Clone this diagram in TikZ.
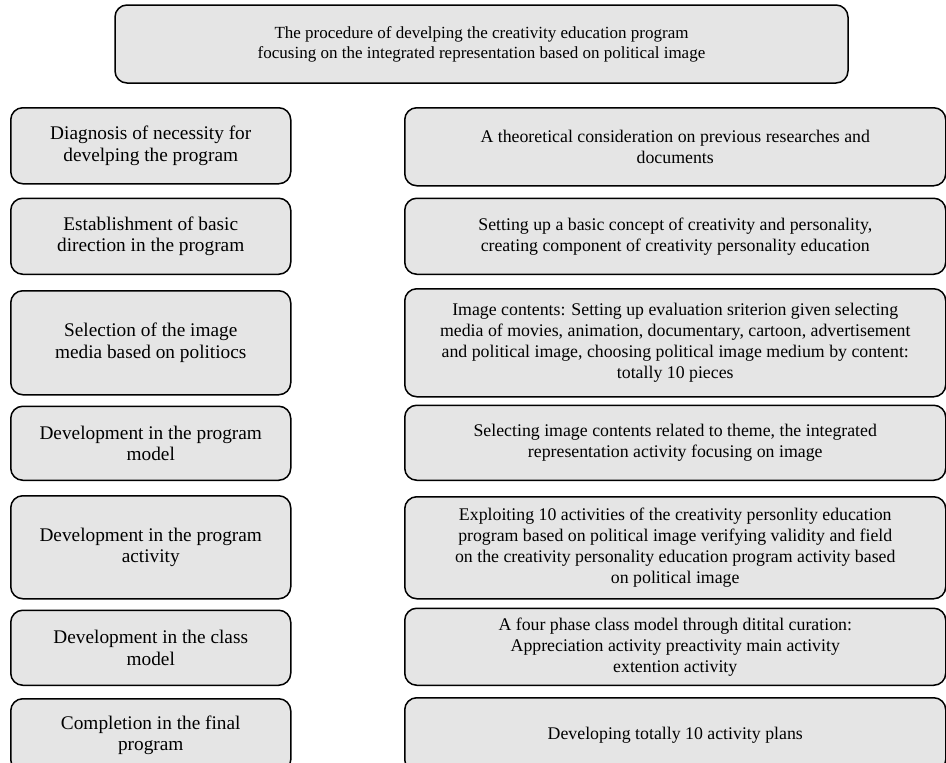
\documentclass[tikz,border=0pt]{standalone}
\usepackage{fontspec}
\setmainfont{Liberation Serif}
\usepackage{tikz}
\usetikzlibrary{positioning}
\definecolor{boxfill}{gray}{0.9}
\tikzset{box/.style={draw, rounded corners=12pt, line width=1.5pt, fill=boxfill, align=center, inner sep=3pt, font=\fontsize{17}{20}\selectfont},
	lbox/.style={box, minimum width=280pt, font=\fontsize{19.3}{21.7}\selectfont},
	rbox/.style={box, minimum width=541pt, font=\fontsize{17.8}{21}\selectfont}}

\begin{document}
\begin{tikzpicture}
			\useasboundingbox (0,0) rectangle (946pt,-763pt);
			\node[box, minimum width=733pt, minimum height=78pt] (T) at (481.5pt,-44pt) {The procedure of develping the creativity education program\\focusing on the integrated representation based on political image};
			
			% left column
			\node[lbox, minimum height=76pt, anchor=north west] (L1) at (10pt,-107pt) {Diagnosis of necessity for\\develping the program};
			\node[lbox, minimum height=76pt] (L2) [below = 13pt of L1] {Establishment of basic\\direction in the program};
			\node[lbox, minimum height=104pt] (L3) [below = 15pt of L2] {Selection of the image\\media based on politiocs};
			\node[lbox, minimum height=74pt] (L4) [below = 10pt of L3] {Development in the program\\model};
			\node[lbox, minimum height=103pt] (L5) [below = 14pt of L4] {Development in the program\\activity};
			\node[lbox, minimum height=75pt] (L6) [below = 10pt of L5] {Development in the class\\model};
			\node[lbox, minimum height=73pt] (L7) [below = 12pt of L6] {Completion in the final\\program};
			
			% right column
			\node[rbox, minimum height=78pt, anchor=north west] (R1) at (404pt,-107pt) {A theoretical consideration on previous researches and\\documents};
			\node[rbox, minimum height=76pt] (R2) [below = 11pt of R1] {Setting up a basic concept of creativity and personality,\\creating component of creativity personality education};
			\node[rbox, minimum height=108pt] (R3) [below = 13pt of R2] {Image contents: Setting up evaluation sriterion given selecting\\media of movies, animation, documentary, cartoon, advertisement\\and political image, choosing political image medium by content:\\totally 10 pieces};
			\node[rbox, minimum height=75pt] (R4) [below = 7pt of R3] {Selecting image contents related to theme, the integrated\\representation activity focusing on image};
			\node[rbox, minimum height=102pt] (R5) [below = 15pt of R4] {Exploiting 10 activities of the creativity personlity education\\program based on political image verifying validity and field\\on the creativity personality education program activity based\\on political image};
			\node[rbox, minimum height=77pt] (R6) [below = 8pt of R5] {A four phase class model through ditital curation:\\Appreciation activity preactivity main activity\\extention activity};
			\node[rbox, minimum height=74pt] (R7) [below = 11pt of R6] {Developing totally 10 activity plans};
\end{tikzpicture}
\end{document}
